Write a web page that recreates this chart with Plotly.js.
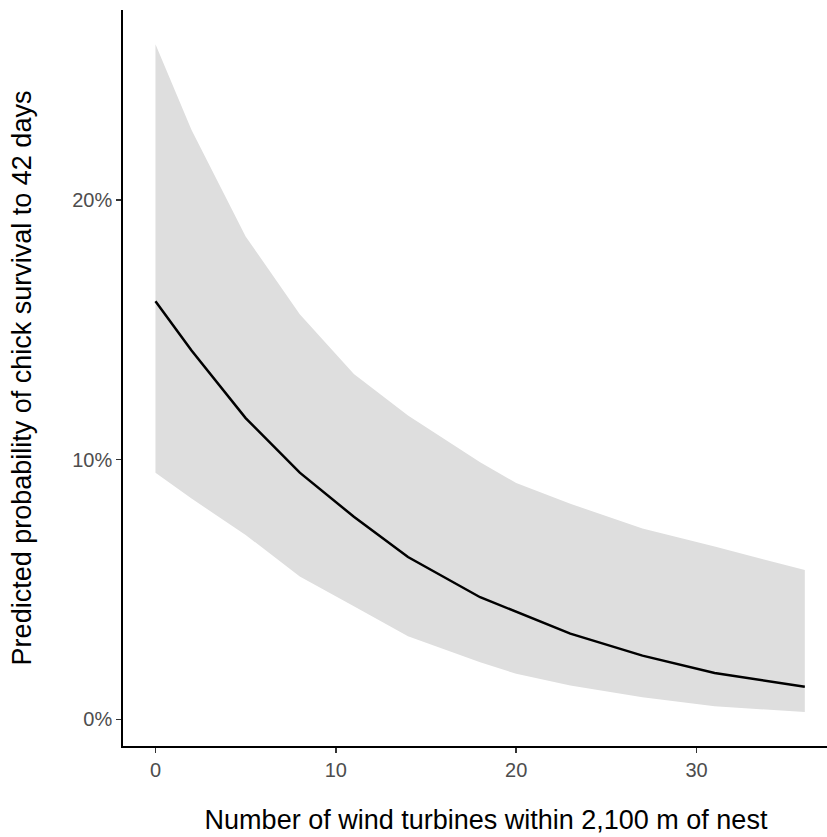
<!DOCTYPE html>
<html>
<head>
<meta charset="utf-8">
<script src="https://cdn.plot.ly/plotly-3.0.1.min.js"></script>
<style>html,body{margin:0;padding:0;background:#fff;overflow:hidden;width:827px;height:837px;}#chart{width:849px;height:837px;}</style>
</head>
<body>
<div id="chart"></div>
<script>
// Number of wind turbines within 2,100 m of nest
const turbines = [0, 2, 5, 8, 11, 14, 18, 20, 23, 27, 31, 36];
// Predicted probability (%) of chick survival to 42 days
const predicted = [16.1, 14.2, 11.6, 9.5, 7.8, 6.25, 4.7, 4.15, 3.3, 2.45, 1.78, 1.25];
const upperCI = [26.0, 22.7, 18.6, 15.6, 13.3, 11.7, 9.9, 9.1, 8.3, 7.35, 6.65, 5.75];
const lowerCI = [9.5, 8.5, 7.1, 5.5, 4.35, 3.2, 2.2, 1.75, 1.3, 0.85, 0.5, 0.28];
const yTickVals = [0, 10, 20];
const yTickText = ["0%", "10%", "20%"];
const xTickVals = [0, 10, 20, 30];

const traces = [
  {x: turbines, y: lowerCI, type: "scatter", mode: "lines", line: {width: 0, color: "rgba(0,0,0,0)"}, hoverinfo: "skip", showlegend: false},
  {x: turbines, y: upperCI, type: "scatter", mode: "lines", fill: "tonexty", fillcolor: "#dedede", line: {width: 0, color: "rgba(0,0,0,0)"}, hoverinfo: "skip", showlegend: false},
  {x: turbines, y: predicted, type: "scatter", mode: "lines", line: {color: "#000000", width: 2.5}, showlegend: false}
];

const layout = {
  width: 849, height: 837,
  margin: {l: 123, r: 0, t: 10, b: 91},
  paper_bgcolor: "#ffffff", plot_bgcolor: "#ffffff",
  font: {family: "Liberation Sans, Arial, sans-serif"},
  xaxis: {
    range: [-1.8, 38.45], showgrid: false, zeroline: false,
    showline: true, linecolor: "#000000", linewidth: 1.8,
    ticks: "outside", ticklen: 5, tickwidth: 1.5, tickcolor: "#333333",
    tickvals: xTickVals, tickfont: {size: 20, color: "#4d4d4d"},
    title: {text: "Number of wind turbines within 2,100 m of nest", font: {size: 27, color: "#000000"}, standoff: 30}
  },
  yaxis: {
    range: [-1.03, 27.32], showgrid: false, zeroline: false,
    showline: true, linecolor: "#000000", linewidth: 1.8,
    ticks: "outside", ticklen: 5, tickwidth: 1.5, tickcolor: "#333333",
    tickvals: yTickVals, ticktext: yTickText, tickfont: {size: 20, color: "#4d4d4d"},
    title: {text: "Predicted probability of chick survival to 42 days", font: {size: 27, color: "#000000"}, standoff: 33}
  }
};

Plotly.newPlot("chart", traces, layout, {displayModeBar: false, staticPlot: true});
</script>
</body>
</html>
